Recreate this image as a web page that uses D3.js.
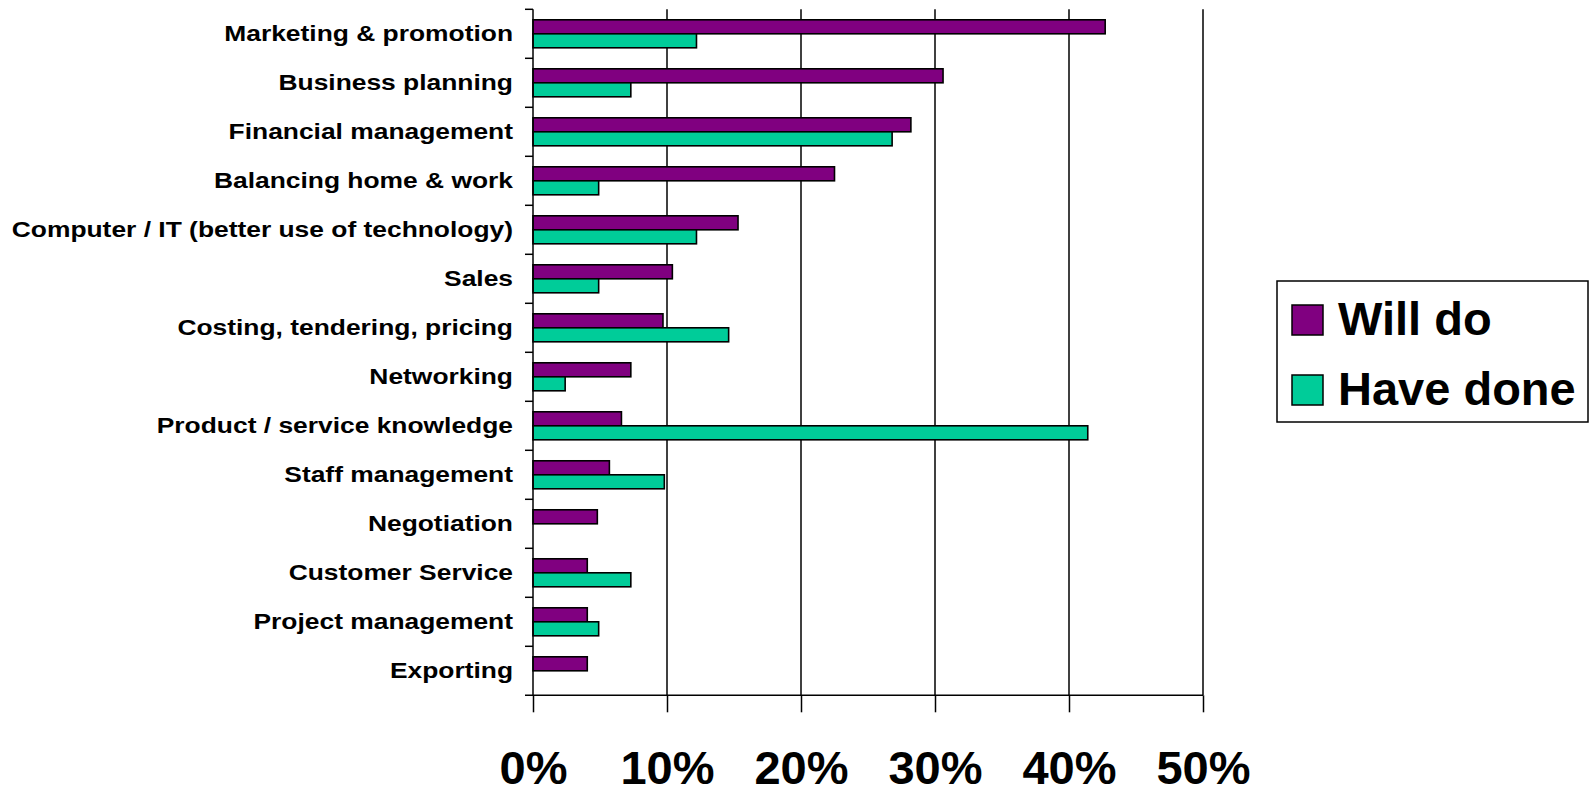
<!DOCTYPE html>
<html>
<head>
<meta charset="utf-8">
<script src="https://cdn.jsdelivr.net/npm/d3@7"></script>
<style>
    html, body { margin: 0; padding: 0; background: #fff; }
    svg { display: block; font-family: "Liberation Sans", Arial, sans-serif; font-weight: bold; }
</style>
</head>
<body>
<div id="vis"></div>
<script>

// Data -----------------------------------------------------------------------

const CATEGORIES = [
    "Marketing & promotion",
    "Business planning",
    "Financial management",
    "Balancing home & work",
    "Computer / IT (better use of technology)",
    "Sales",
    "Costing, tendering, pricing ",
    "Networking",
    "Product / service knowledge",
    "Staff management",
    "Negotiation",
    "Customer Service",
    "Project management",
    "Exporting"
];

const SERIES = ["Will do", "Have done"];

const WILL_DO = [42.7, 30.6, 28.2, 22.5, 15.3, 10.4, 9.7, 7.3, 6.6, 5.7, 4.8, 4.05, 4.05, 4.05];
const HAVE_DONE = [12.2, 7.3, 26.8, 4.9, 12.2, 4.9, 14.6, 2.4, 41.4, 9.8, 0, 7.3, 4.9, 0];

const X_TICKS = [0, 10, 20, 30, 40, 50];

const COLOURS = ["#800080", "#00cc99"];

// Setup ----------------------------------------------------------------------

const W = 1592;
const H = 790;
const margin = {top: 9.3, left: 533};
const plotW = 670;
const plotH = 686;

const svg = d3.select("#vis")
    .append("svg")
    .attr("width", W)
    .attr("height", H);

const xscale = d3.scaleLinear()
    .domain([0, 50])
    .range([margin.left, margin.left + plotW]);

const yscale = d3.scaleBand()
    .domain(CATEGORIES)
    .range([margin.top, margin.top + plotH]);

const subscale = d3.scaleBand()
    .domain(SERIES)
    .range([0, yscale.bandwidth()])
    .paddingOuter(0.75);

const colour = d3.scaleOrdinal().domain(SERIES).range(COLOURS);

const rows = CATEGORIES.map((c, i) => ({
    cat: c,
    values: [
        {series: SERIES[0], value: WILL_DO[i]},
        {series: SERIES[1], value: HAVE_DONE[i]}
    ]
}));

const yBottom = margin.top + plotH;

// Gridlines
svg.append("g")
    .selectAll("line")
    .data(X_TICKS.slice(1))
    .enter()
    .append("line")
    .attr("x1", d => xscale(d))
    .attr("x2", d => xscale(d))
    .attr("y1", margin.top)
    .attr("y2", yBottom)
    .attr("stroke", "#000")
    .attr("stroke-width", 1.5);

// Bars
const groups = svg.append("g")
    .selectAll("g")
    .data(rows)
    .enter()
    .append("g")
    .attr("transform", d => `translate(0,${yscale(d.cat)})`);

groups.selectAll("rect")
    .data(d => d.values.filter(v => v.value > 0))
    .enter()
    .append("rect")
    .attr("x", xscale(0))
    .attr("y", d => subscale(d.series))
    .attr("width", d => xscale(d.value) - xscale(0))
    .attr("height", subscale.bandwidth())
    .attr("fill", d => colour(d.series))
    .attr("stroke", "#000")
    .attr("stroke-width", 1.6);

// Category axis (left)
const yaxis = svg.append("g");

yaxis.append("line")
    .attr("x1", xscale(0))
    .attr("x2", xscale(0))
    .attr("y1", margin.top)
    .attr("y2", yBottom)
    .attr("stroke", "#000")
    .attr("stroke-width", 1.5);

yaxis.selectAll(".ytick")
    .data(CATEGORIES)
    .enter()
    .append("line")
    .attr("class", "ytick")
    .attr("x1", xscale(0) - 8)
    .attr("x2", xscale(0))
    .attr("y1", d => yscale(d))
    .attr("y2", d => yscale(d))
    .attr("stroke", "#000")
    .attr("stroke-width", 1.5);

// labels are a little wider than plain Arial in the original, so stretch them
yaxis.selectAll(".ylabel")
    .data(CATEGORIES)
    .enter()
    .append("text")
    .attr("class", "ylabel")
    .attr("transform", d =>
        `translate(513,${yscale(d) + yscale.bandwidth() / 2}) scale(1.2,1)`)
    .attr("dy", "0.32em")
    .attr("text-anchor", "end")
    .style("font-size", "22px")
    .text(d => d);

// Value axis (bottom)
svg.append("line")
    .attr("x1", xscale(0) - 8)
    .attr("x2", xscale(50))
    .attr("y1", yBottom)
    .attr("y2", yBottom)
    .attr("stroke", "#000")
    .attr("stroke-width", 1.5);

const xaxis = d3.axisBottom(xscale)
    .tickValues(X_TICKS)
    .tickSize(17)
    .tickSizeOuter(0)
    .tickFormat(d => d + "%");

const xg = svg.append("g")
    .attr("transform", `translate(0,${yBottom})`)
    .call(xaxis);

xg.select(".domain").remove();
xg.selectAll(".tick line").attr("stroke", "#000").attr("stroke-width", 1.5);
xg.selectAll(".tick text")
    .attr("y", 89)
    .attr("dy", 0)
    .attr("fill", "#000")
    .style("font-family", "'Liberation Sans', Arial, sans-serif")
    .style("font-weight", "bold")
    .style("font-size", "47px");

// Legend
const legend = svg.append("g");

legend.append("rect")
    .attr("x", 1277)
    .attr("y", 281)
    .attr("width", 311)
    .attr("height", 141)
    .attr("fill", "#fff")
    .attr("stroke", "#000")
    .attr("stroke-width", 1.5);

const items = legend.selectAll(".item")
    .data(SERIES)
    .enter()
    .append("g")
    .attr("class", "item")
    .attr("transform", (d, i) => `translate(1292,${305 + i * 70})`);

items.append("rect")
    .attr("width", 31)
    .attr("height", 30)
    .attr("fill", d => colour(d))
    .attr("stroke", "#000")
    .attr("stroke-width", 1.5);

items.append("text")
    .attr("x", 46)
    .attr("y", 30)
    .style("font-size", "47px")
    .text(d => d);

</script>
</body>
</html>
